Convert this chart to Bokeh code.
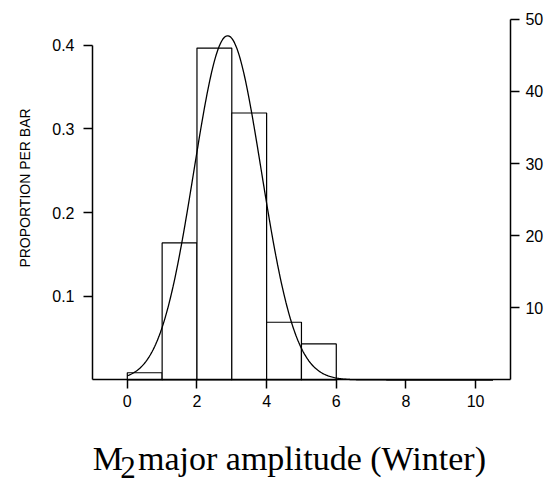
import numpy as np
from math import pi
from bokeh.plotting import figure
from bokeh.models import Range1d, LinearAxis, FixedTicker, Label
from bokeh.embed import file_html
from bokeh.resources import INLINE

# ---- data ----
bin_left = [0, 1, 2, 3, 4, 5]
bin_right = [1, 2, 3, 4, 5, 6]
bin_counts = [1, 19, 46, 37, 8, 5]
n_total = 116
curve_mean = 2.88          # fitted normal curve parameters
curve_sd = 0.97
curve_start, curve_end = 0.0, 10.5
x_ticks = [0, 2, 4, 6, 8, 10]
y_ticks = [0.1, 0.2, 0.3, 0.4]
y_tick_labels = {0.1: "0.1", 0.2: "0.2", 0.3: "0.3", 0.4: "0.4"}
count_ticks = [10, 20, 30, 40, 50]
x_title = "major amplitude (Winter)"
y_title = "PROPORTION PER BAR"

prop = [c / n_total for c in bin_counts]

# view ranges (frame fills the canvas, axes drawn at fixed locations)
X0, X1 = -3.641, 12.409
Y0, Y1 = -0.1201, 0.4534

p = figure(width=559, height=480, output_backend="svg", toolbar_location=None,
           x_range=Range1d(X0, X1), y_range=Range1d(Y0, Y1),
           x_axis_location=None, y_axis_location=None,
           min_border=0)
p.outline_line_color = None
p.grid.visible = False
p.background_fill_color = "white"
p.border_fill_color = "white"

p.extra_y_ranges = {"count": Range1d(Y0 * n_total, Y1 * n_total)}

TICK_FONT = "Liberation Sans"
TICK_SIZE = "16px"


def style(ax, standoff):
    ax.minor_tick_line_color = None
    ax.major_tick_in = 0
    ax.major_tick_out = 9
    ax.major_label_standoff = standoff
    ax.axis_line_width = 1.5
    ax.major_tick_line_width = 1.5
    ax.major_label_text_font = TICK_FONT
    ax.major_label_text_font_size = TICK_SIZE
    ax.major_label_text_color = "black"


p.quad(left=bin_left, right=bin_right, bottom=0, top=prop,
       fill_color="white", line_color="black", line_width=1.2)

cx = np.linspace(curve_start, curve_end, 400)
cy = np.exp(-0.5 * ((cx - curve_mean) / curve_sd) ** 2) / (curve_sd * np.sqrt(2 * np.pi))
p.line(cx, cy, line_color="black", line_width=1.3)

xa = LinearAxis(ticker=FixedTicker(ticks=x_ticks), fixed_location=0, bounds=(-1, 11))
style(xa, 6)
p.add_layout(xa, "below")

ya = LinearAxis(ticker=FixedTicker(ticks=y_ticks), fixed_location=-1, bounds=(0, 0.4),
                major_label_overrides=y_tick_labels)
style(ya, 9)
p.add_layout(ya, "left")

ra = LinearAxis(y_range_name="count", ticker=FixedTicker(ticks=count_ticks),
                fixed_location=11, bounds=(0, 50))
style(ra, 6)
p.add_layout(ra, "right")

# y axis title
p.add_layout(Label(x=-2.95, y=0.2294, text=y_title, angle=pi / 2,
                   text_align="center", text_baseline="middle",
                   text_font=TICK_FONT, text_font_size="14px", text_color="black"))

# x axis title with lowered "2"
serif = "Liberation Serif"
p.add_layout(Label(x=-0.99, y=-0.0936, text="M", text_font=serif,
                   text_font_size="34px", text_baseline="alphabetic", text_color="black"))
p.add_layout(Label(x=-0.20, y=-0.1040, text="2", text_font=serif,
                   text_font_size="31px", text_baseline="alphabetic", text_color="black"))
p.add_layout(Label(x=0.307, y=-0.0936, text=x_title, text_font=serif,
                   text_font_size="34px", text_baseline="alphabetic", text_color="black"))

open("out.html", "w").write(file_html(p, INLINE))
